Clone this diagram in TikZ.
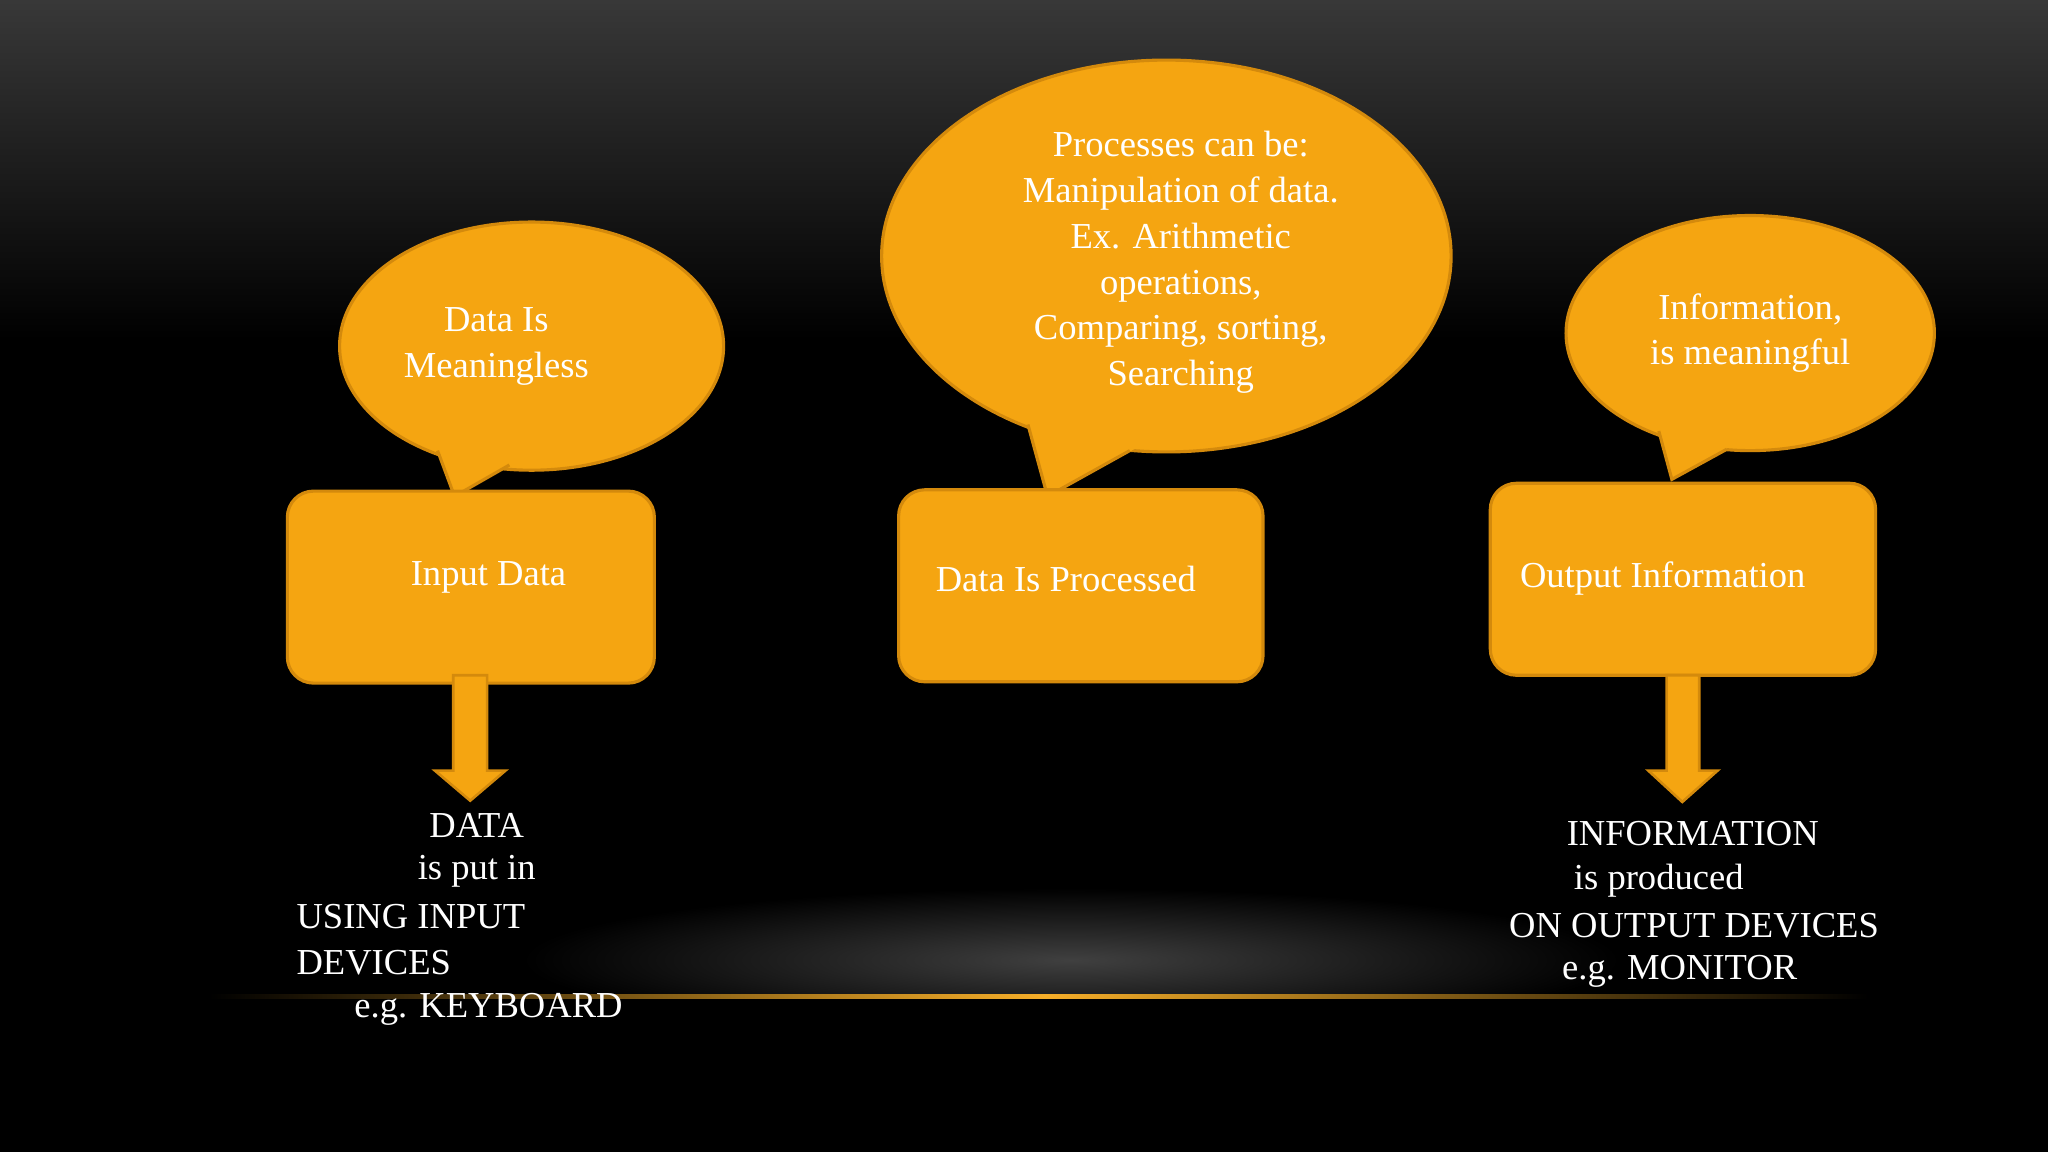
\documentclass[tikz,border=0pt]{standalone}
\usepackage{fontspec}
\setmainfont{Liberation Serif}
\usetikzlibrary{shapes.geometric}
\definecolor{org}{HTML}{F5A511}
\definecolor{orgd}{HTML}{D48A0C}
\begin{document}
\begin{tikzpicture}[x=0.5pt,y=-0.5pt,
  bub/.style={fill=org,draw=orgd,line width=1.2pt},
  boxx/.style={fill=org,draw=orgd,line width=1.2pt,rounded corners=10pt},
  txt/.style={text=white,font=\fontsize{14}{17.5}\selectfont,align=center},
  txtl/.style={text=white,font=\fontsize{14}{17.5}\selectfont,anchor=west}]
\useasboundingbox (0,0) rectangle (1568,882);
\fill[black] (0,0) rectangle (1568,882);
\shade[top color=black!78,bottom color=black] (0,0) rectangle (1568,260);
\shade[inner color=black!75,outer color=black] (820,735) ellipse [x radius=420, y radius=55];
\fill[black] (0,765) rectangle (1568,882);
\shade[left color=black,right color=org!90!white] (160,761.5) rectangle (800,764.5);
\shade[left color=org!90!white,right color=black] (800,761.5) rectangle (1430,764.5);
% bubble 1
\draw[bub] (407,265) ellipse [x radius=147, y radius=95];
\fill[org] (333,340) -- (348,380) -- (395,352) -- (380,330) -- cycle;
\draw[orgd,line width=1.2pt] (335,345) -- (348,380) -- (390,356);
\node[txt] (b1) at (380,265) {Data Is\\Meaningless};
% bubble 2
\draw[bub] (893,196) ellipse [x radius=218, y radius=150];
\fill[org] (785,318) -- (802,380) -- (870,343) -- (840,320) -- cycle;
\draw[orgd,line width=1.2pt] (787,325) -- (802,380) -- (865,345);
\node[txt] (b2) at (904,201) {Processes can be:\\Manipulation of data.\\Ex. Arithmetic\\operations,\\Comparing, sorting,\\Searching};
% bubble 3
\draw[bub] (1340,255) ellipse [x radius=141, y radius=90];
\fill[org] (1268,324) -- (1280,367) -- (1326,341) -- (1300,320) -- cycle;
\draw[orgd,line width=1.2pt] (1270,330) -- (1280,367) -- (1322,344);
\node[txt] (b3) at (1340,255) {Information,\\is meaningful};
% boxes
\draw[boxx] (220,376) rectangle (501,523);
\node[txt] (i) at (374,442) {Input Data};
\draw[boxx] (688,375) rectangle (967,522);
\node[txt] (p) at (816,443) {Data Is Processed};
\draw[boxx] (1141,370) rectangle (1436,517);
\node[txt] (o) at (1273,443) {Output Information};
% arrows
\draw[bub,line width=1pt] (347,517) -- (373,517) -- (373,590) -- (387,590) -- (360,613) -- (333,590) -- (347,590) -- cycle;
\draw[bub,line width=1pt] (1276,517) -- (1301,517) -- (1301,590) -- (1315,590) -- (1288,614) -- (1262,590) -- (1276,590) -- cycle;
% texts
\node[txt] (t1) at (365,632) {DATA};
\node[txt] (t2) at (365,667) {is put in};
\node[txtl] (t3) at (220,702) {USING INPUT};
\node[txtl] (t4) at (220,737) {DEVICES};
\node[txt] (t5) at (374,773) {e.g. KEYBOARD};
\node[txt] (r1) at (1296,638) {INFORMATION};
\node[txt] (r2) at (1270,674) {is produced};
\node[txt] (r3) at (1297,709) {ON OUTPUT DEVICES};
\node[txt] (r4) at (1286,744) {e.g. MONITOR};
\end{tikzpicture}
\end{document}
